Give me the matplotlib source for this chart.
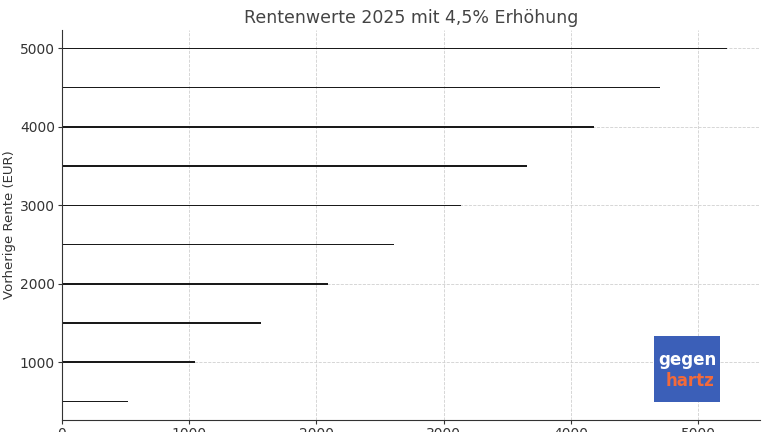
import matplotlib.pyplot as plt

# previous pension (EUR) and value after 4.5% increase
vorherige_rente = [500, 1000, 1500, 2000, 2500, 3000, 3500, 4000, 4500, 5000]
neue_rente = [522.5, 1045, 1567.5, 2090, 2612.5, 3135, 3657.5, 4180, 4702.5, 5225]

fig = plt.figure(figsize=(7.68, 4.32), dpi=100)
ax = fig.add_axes([0.0807, 0.0278, 0.9089, 0.9028])

ax.barh(vorherige_rente, neue_rente, height=20, color='#1a1a1a')
ax.grid(True, linestyle='--', linewidth=0.6, color='#d0d0d0')
ax.set_axisbelow(True)
for s in ['top', 'right']:
    ax.spines[s].set_visible(False)
ax.spines['left'].set_color('#333333')
ax.spines['bottom'].set_color('#333333')
ax.tick_params(colors='#333333', labelsize=10, length=3, pad=2)
ax.set_ylabel('Vorherige Rente (EUR)', fontsize=9.5, color='#333333', labelpad=3)
ax.set_title('Rentenwerte 2025 mit 4,5% Erhöhung', fontsize=12.5, color='#444444', pad=5)

# gegen hartz logo
logo = fig.add_axes([654 / 768, 1 - 402 / 432, 66 / 768, 66 / 432])
logo.set_facecolor('#3b5fb8')
logo.set_xticks([])
logo.set_yticks([])
for s in logo.spines.values():
    s.set_visible(False)
logo.text(0.5, 0.64, 'gegen', color='white', fontsize=12, fontweight='bold',
          ha='center', va='center', transform=logo.transAxes)
logo.text(0.55, 0.32, 'hartz', color='#f26a3a', fontsize=12, fontweight='bold',
          ha='center', va='center', transform=logo.transAxes)

plt.savefig('out.png')
